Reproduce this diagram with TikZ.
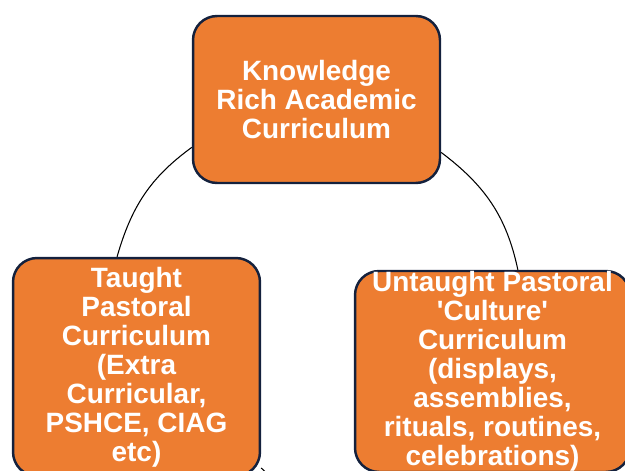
\documentclass[tikz,border=0pt]{standalone}
\usepackage{fontspec}
\setmainfont{Liberation Sans}
\usepackage{xcolor}
\definecolor{boxorange}{HTML}{ED7D31}
\definecolor{boxnavy}{HTML}{14213D}

\begin{document}
\begin{tikzpicture}[
    x=0.02cm,
    y=0.02cm,
    box/.style={draw=boxnavy, fill=boxorange, line width=1.4pt, rounded corners=0.48cm,
        align=center, text=white, inner sep=0pt,
        font=\fontsize{15.9}{16.5}\selectfont\bfseries},
    link/.style={draw=black, line width=0.6pt}
]
\useasboundingbox (0,0) rectangle (625,470);
\node[box, minimum width=4.94cm, minimum height=3.34cm] (academic) at (316.5,370.5) {Knowledge\\Rich Academic\\Curriculum};
\node[box, minimum width=4.94cm, minimum height=4.36cm] (taught) at (136.5,103) {Taught\\Pastoral\\Curriculum\\(Extra\\Curricular,\\PSHCE, CIAG\\etc)};
\node[box, minimum width=5.5cm, minimum height=4.02cm] (untaught) at (492.5,98.5) {Untaught Pastoral\\\textquotesingle Culture\textquotesingle\\Curriculum\\(displays,\\assemblies,\\rituals, routines,\\celebrations)};
\draw[link] (academic.201) to[out=216,in=74] (taught.100);
\draw[link] (academic.337) to[out=-37,in=102] (untaught.76);
\draw[link] (taught.-39) to[out=-45,in=-140] (untaught.-140);
\end{tikzpicture}
\end{document}
